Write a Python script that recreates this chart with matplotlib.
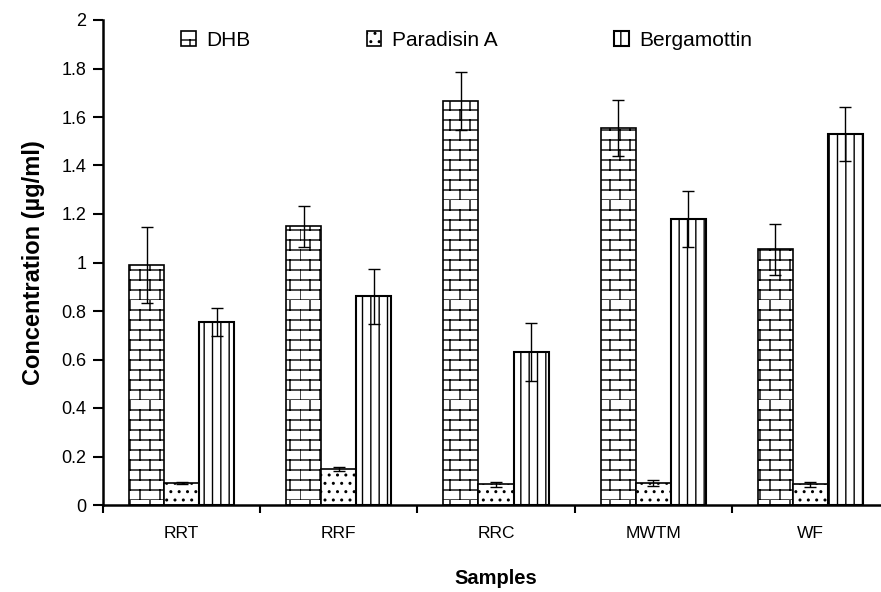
import warnings
import numpy as np
import matplotlib
matplotlib.use('Agg')
import matplotlib.pyplot as plt
from matplotlib.path import Path
from matplotlib.hatch import HatchPatternBase, _hatch_types

warnings.filterwarnings('ignore')

samples = ['RRT', 'RRF', 'RRC', 'MWTM', 'WF']
dhb = [0.99, 1.15, 1.665, 1.555, 1.055]
dhb_err = [0.155, 0.085, 0.12, 0.115, 0.105]
para = [0.09, 0.15, 0.085, 0.09, 0.085]
para_err = [0.004, 0.008, 0.01, 0.013, 0.01]
berg = [0.755, 0.86, 0.63, 1.18, 1.53]
berg_err = [0.057, 0.115, 0.12, 0.115, 0.11]


# brick hatch for the DHB bars (matplotlib has none built in)
class BrickHatch(HatchPatternBase):
    def __init__(self, hatch, density):
        self.rows = hatch.count('b') * 10
        self.cols = 5
        self.num_vertices = self.rows * 2 * (1 + self.cols)

    def set_vertices_and_codes(self, vertices, codes):
        segs = []
        for i in range(self.rows):
            y0 = i / self.rows
            y1 = (i + 1) / self.rows
            segs.append(((0, y0), (1, y0)))
            off = 0.1 if i % 2 else 0.0
            for j in range(self.cols):
                xv = j / self.cols + off
                segs.append(((xv, y0), (xv, y1)))
        vertices[:] = np.array(segs).reshape(-1, 2)
        codes[0::2] = Path.MOVETO
        codes[1::2] = Path.LINETO


_hatch_types.append(BrickHatch)

plt.rcParams['font.family'] = ['Liberation Sans', 'DejaVu Sans']
plt.rcParams['hatch.linewidth'] = 1.0

fig = plt.figure(figsize=(8.81, 5.92), dpi=100)
ax = fig.add_axes([103 / 881, 87 / 592, 786 / 881, 485 / 592])

x = np.arange(len(samples))
w = 0.223
ekw = dict(ecolor='black', elinewidth=1, capsize=4, capthick=1)
ax.bar(x - w, dhb, w, yerr=dhb_err, color='white', edgecolor='black', linewidth=1.2,
       hatch='b', label='DHB', error_kw=ekw)
ax.bar(x, para, w, yerr=para_err, color='white', edgecolor='black', linewidth=1.2,
       hatch='..', label='Paradisin A', error_kw=ekw)
ax.bar(x + w, berg, w, yerr=berg_err, color='white', edgecolor='black', linewidth=1.5,
       hatch='||', label='Bergamottin', error_kw=ekw)

ax.set_xlim(-0.5, 4.5)
ax.set_ylim(0, 2)
ax.set_yticks(np.arange(0, 2.01, 0.2))
ax.set_yticklabels(['0', '0.2', '0.4', '0.6', '0.8', '1', '1.2', '1.4', '1.6', '1.8', '2'])
ax.set_xticks(x)
ax.set_xticklabels(samples)
ax.set_xticks(np.arange(-0.5, 5, 1), minor=True)
ax.tick_params(axis='x', which='major', length=0, labelsize=12.5, pad=15)
ax.tick_params(axis='x', which='minor', length=6, width=1.5)
ax.tick_params(axis='y', length=7, width=1.5, labelsize=13, pad=5)

for s in ['top', 'right']:
    ax.spines[s].set_visible(False)
for s in ['left', 'bottom']:
    ax.spines[s].set_linewidth(1.8)

ax.set_ylabel('Concentration (µg/ml)', fontsize=17, fontweight='bold', labelpad=12)
ax.set_xlabel('Samples', fontsize=14.5, fontweight='bold', labelpad=20)

fig.legend(loc='upper left', bbox_to_anchor=(181 / 881, 1 - 31 / 592), ncol=3,
           frameon=False, fontsize=15, handlelength=0.7, handleheight=0.7,
           handletextpad=0.5, columnspacing=5.6, borderpad=0, borderaxespad=0)

fig.savefig('out.png', dpi=100)
